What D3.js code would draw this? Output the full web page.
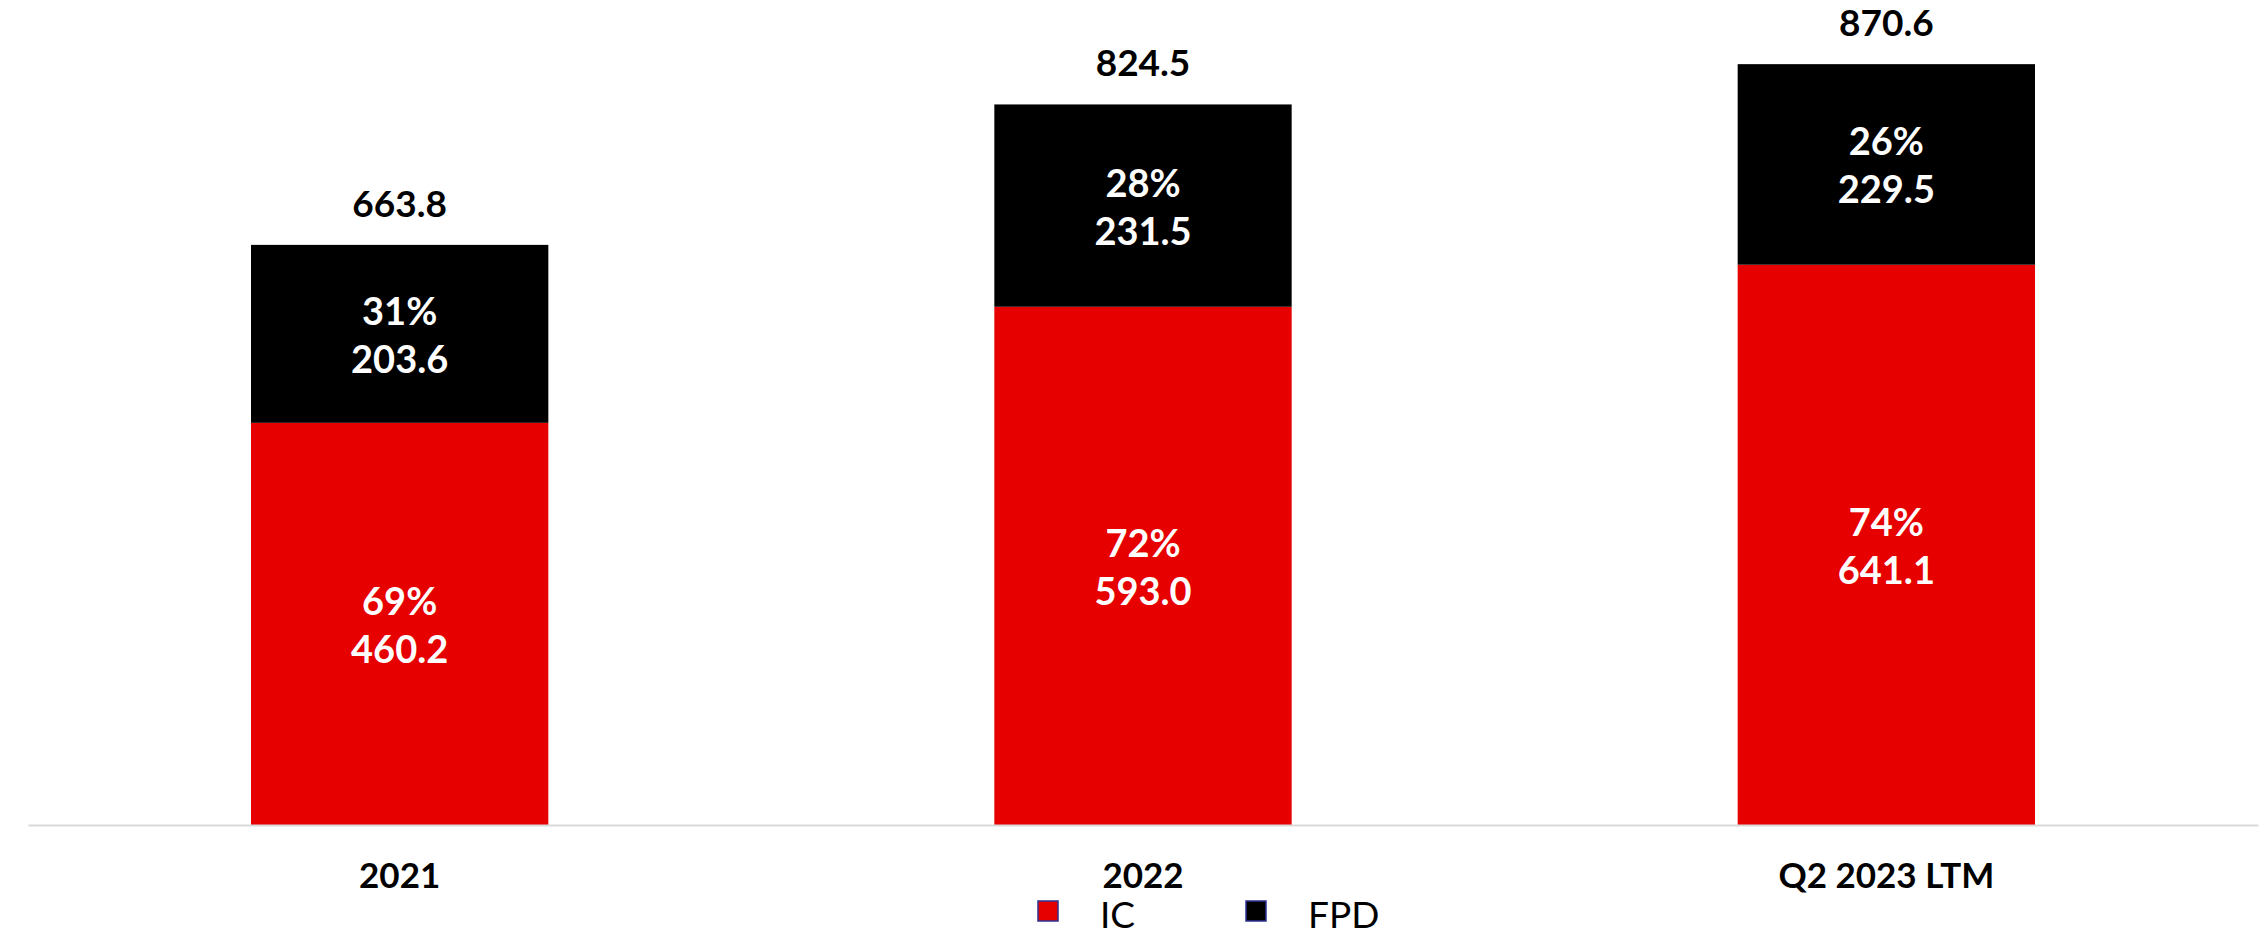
<!DOCTYPE html>
<html>
<head>
<meta charset="utf-8">
<script src="https://cdn.jsdelivr.net/npm/d3@7"></script>
<style>
  html, body { margin: 0; padding: 0; background: #fff; }
  svg { display: block; font-family: Lato, "Noto Sans", sans-serif; }
</style>
</head>
<body>
<svg id="chart" width="2267" height="930"></svg>
<script>
// data
var categories = ["2021", "2022", "Q2 2023 LTM"]
var icValues = [460.2, 593.0, 641.1]
var fpdValues = [203.6, 231.5, 229.5]
var totals = [663.8, 824.5, 870.6]
var icShare = ["69%", "72%", "74%"]
var fpdShare = ["31%", "28%", "26%"]
var seriesNames = ["IC", "FPD"]
var seriesColors = ["#e60000", "#000000"]

var svg = d3.select("#chart")
var baseY = 825

var x = d3.scaleBand()
    .domain(categories)
    .range([28, 2258])
    .paddingInner(0.6)
    .paddingOuter(0.3)

var y = d3.scaleLinear()
    .domain([0, 944])
    .range([baseY, 0])

var rows = categories.map(function (c, i) {
    return { cat: c, IC: icValues[i], FPD: fpdValues[i], total: totals[i], icPct: icShare[i], fpdPct: fpdShare[i] }
})

var stack = d3.stack().keys(seriesNames)(rows)

var layers = svg.append("g").selectAll("g")
    .data(stack)
    .enter().append("g")
    .attr("fill", function (d, i) { return seriesColors[i] })

layers.selectAll("rect")
    .data(function (d) { return d })
    .enter().append("rect")
    .attr("x", function (d) { return x(d.data.cat) })
    .attr("width", x.bandwidth())
    .attr("y", function (d) { return y(d[1]) })
    .attr("height", function (d) { return y(d[0]) - y(d[1]) })

// labels inside the segments
stack.forEach(function (layer, li) {
    layer.forEach(function (d) {
        var cx = x(d.data.cat) + x.bandwidth() / 2
        var cy = (y(d[0]) + y(d[1])) / 2
        var pct = li === 0 ? d.data.icPct : d.data.fpdPct
        var val = li === 0 ? d.data.IC : d.data.FPD
        var t = svg.append("text")
            .attr("text-anchor", "middle")
            .attr("fill", "#fff")
            .attr("font-size", 38)
            .attr("font-weight", 700)
        t.append("tspan").attr("x", cx).attr("y", cy - 9).text(pct)
        t.append("tspan").attr("x", cx).attr("y", cy + 39).text(val.toFixed(1))
    })
})

// totals above the bars
svg.append("g").selectAll("text")
    .data(rows)
    .enter().append("text")
    .attr("x", function (d) { return x(d.cat) + x.bandwidth() / 2 })
    .attr("y", function (d) { return y(d.total) - 28 })
    .attr("text-anchor", "middle")
    .attr("font-size", 37)
    .attr("font-weight", 700)
    .attr("fill", "#000")
    .text(function (d) { return d.total.toFixed(1) })

// category axis
var axis = svg.append("g")
    .attr("transform", "translate(0," + baseY + ")")
    .call(d3.axisBottom(x).tickSize(0).tickSizeOuter(0))

axis.select(".domain").attr("stroke", "#d9d9d9").attr("stroke-width", 2)
axis.selectAll(".tick text")
    .attr("dy", 0)
    .attr("y", 63)
    .attr("font-size", 35)
    .attr("font-weight", 700)
    .attr("font-family", "Lato, 'Noto Sans', sans-serif")
    .attr("fill", "#000")

// legend
var legendX = [1038, 1246]
var legend = svg.append("g").selectAll("g")
    .data(seriesNames)
    .enter().append("g")
    .attr("transform", function (d, i) { return "translate(" + legendX[i] + ",901)" })

legend.append("rect")
    .attr("width", 20)
    .attr("height", 20)
    .attr("fill", function (d, i) { return seriesColors[i] })
    .attr("stroke", "#2e3192")
    .attr("stroke-width", 1.5)

legend.append("text")
    .attr("x", 62)
    .attr("y", 27)
    .attr("font-size", 37)
    .attr("fill", "#000")
    .text(function (d) { return d })
</script>
</body>
</html>
